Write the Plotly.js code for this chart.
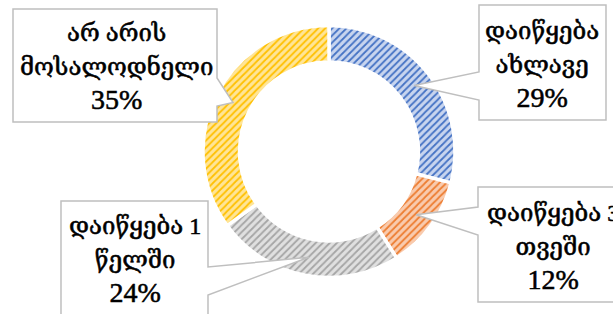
<!DOCTYPE html>
<html>
<head>
<meta charset="utf-8">
<script src="https://cdn.plot.ly/plotly-3.0.1.min.js"></script>
<style>
html,body{margin:0;padding:0;background:#fff;}
#chart{width:613px;height:314px;}
.annotation-text{stroke:#000;stroke-width:0.55px;}
</style>
</head>
<body>
<div id="chart"></div>
<script>
// ---- data ----
const categories = ['დაიწყება ახლავე', 'დაიწყება 3 თვეში', 'დაიწყება 1 წელში', 'არ არის მოსალოდნელი'];
const values = [29, 12, 24, 35];
const labelLines = [['დაიწყება', 'ახლავე'], ['დაიწყება 3', 'თვეში'], ['დაიწყება 1', 'წელში'], ['არ არის', 'მოსალოდნელი']];
const bgColors = ['#c8d5ef', '#f9cbae', '#e0e0e0', '#ffe597'];
const fgColors = ['#4472c4', '#ed7d31', '#a5a5a5', '#ffc000'];

// ---- layout helpers ----
const W = 613, H = 314;
const cx = 329, cy = 151.5, R = 126, hole = 0.71;
const px = x => x / W;
const py = y => 1 - y / H;

// callout boxes (pixels): box rect, side of wedge, wedge base y's, text centre
const boxes = [
  {x0: 479, x1: 606, y0: 5, y1: 120, side: 'left', b0: 72, b1: 100, tx: 542, ty: 65},
  {x0: 478, x1: 640, y0: 187, y1: 302, side: 'left', b0: 207, b1: 235, tx: 553, ty: 247},
  {x0: 61, x1: 208, y0: 201, y1: 340, side: 'right', b0: 267, b1: 295, tx: 135, ty: 260},
  {x0: 13, x1: 217, y0: 9, y1: 122, side: 'right', b0: 78, b1: 106, tx: 116, ty: 67}
];

const total = values.reduce((a, b) => a + b, 0);
let cum = 0;
const shapes = [];
const annotations = [];
values.forEach((v, i) => {
  const mid = (cum + v / 2) / total * 2 * Math.PI;
  cum += v;
  const rm = R * (1 + hole) / 2;
  const tipX = cx + rm * Math.sin(mid);
  const tipY = cy - rm * Math.cos(mid);
  const b = boxes[i];
  let pts;
  if (b.side === 'left') {
    pts = [[b.x0, b.y0], [b.x1, b.y0], [b.x1, b.y1], [b.x0, b.y1], [b.x0, b.b1], [tipX, tipY], [b.x0, b.b0]];
  } else {
    pts = [[b.x0, b.y0], [b.x1, b.y0], [b.x1, b.b0], [tipX, tipY], [b.x1, b.b1], [b.x1, b.y1], [b.x0, b.y1]];
  }
  const path = 'M ' + pts.map(p => px(p[0]).toFixed(5) + ',' + py(p[1]).toFixed(5)).join(' L ') + ' Z';
  shapes.push({type: 'path', xref: 'paper', yref: 'paper', path: path,
    fillcolor: '#ffffff', line: {color: '#bfbfbf', width: 1.5}, layer: 'above'});
  const geo = labelLines[i].map(s => '<span style="font-size:24px">' + s + '</span>').join('<br>');
  annotations.push({xref: 'paper', yref: 'paper', x: px(b.tx), y: py(b.ty),
    xanchor: 'center', yanchor: 'middle', showarrow: false, align: 'center',
    text: geo + '<br><span style="font-size:28px">' + v + '%</span>',
    font: {family: '"Liberation Serif", "DejaVu Serif", serif', size: 26, color: '#000'}});
});

const trace = {
  type: 'pie',
  labels: categories,
  values: values,
  hole: hole,
  sort: false,
  direction: 'clockwise',
  rotation: 0,
  textinfo: 'none',
  hoverinfo: 'none',
  showlegend: false,
  domain: {x: [px(cx - R), px(cx + R)], y: [py(cy + R), py(cy - R)]},
  marker: {
    colors: bgColors,
    line: {color: '#ffffff', width: 3.5},
    pattern: {shape: '/', fgcolor: fgColors, bgcolor: bgColors, size: 5, solidity: 0.35, fillmode: 'replace'}
  }
};

Plotly.newPlot('chart', [trace], {
  width: W, height: H,
  margin: {l: 0, r: 0, t: 0, b: 0},
  paper_bgcolor: '#ffffff',
  showlegend: false,
  shapes: shapes,
  annotations: annotations
}, {staticPlot: true, displayModeBar: false});
</script>
</body>
</html>
